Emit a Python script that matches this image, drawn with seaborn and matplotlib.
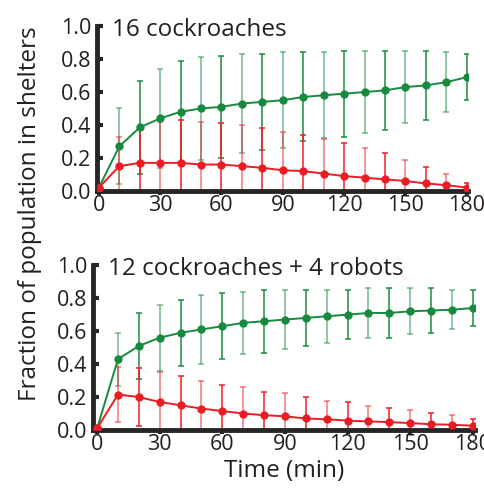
import numpy as np
import pandas as pd
import matplotlib
matplotlib.use('Agg')
import matplotlib.pyplot as plt
import seaborn as sns

# time points (min)
time = [0, 10, 20, 30, 40, 50, 60, 70, 80, 90, 100, 110, 120, 130, 140, 150, 160, 170, 180]

# 16 cockroaches
top_green = [0.02, 0.27, 0.385, 0.44, 0.48, 0.50, 0.51, 0.53, 0.54, 0.55, 0.57, 0.58, 0.59, 0.60, 0.61, 0.63, 0.64, 0.66, 0.69]
top_green_sd = [0.0, 0.23, 0.28, 0.30, 0.31, 0.31, 0.31, 0.30, 0.29, 0.29, 0.27, 0.26, 0.26, 0.25, 0.24, 0.22, 0.21, 0.18, 0.14]
top_red = [0.02, 0.15, 0.17, 0.17, 0.17, 0.16, 0.16, 0.15, 0.14, 0.125, 0.12, 0.105, 0.09, 0.08, 0.07, 0.06, 0.045, 0.035, 0.02]
top_red_sd = [0.0, 0.18, 0.22, 0.25, 0.26, 0.26, 0.25, 0.25, 0.24, 0.235, 0.22, 0.21, 0.20, 0.18, 0.16, 0.13, 0.10, 0.065, 0.03]

# 12 cockroaches + 4 robots
bot_green = [0.01, 0.43, 0.51, 0.56, 0.59, 0.61, 0.63, 0.65, 0.66, 0.67, 0.68, 0.69, 0.70, 0.71, 0.71, 0.72, 0.725, 0.73, 0.74]
bot_green_sd = [0.0, 0.16, 0.20, 0.20, 0.20, 0.21, 0.20, 0.19, 0.19, 0.18, 0.17, 0.16, 0.15, 0.15, 0.15, 0.14, 0.135, 0.12, 0.11]
bot_red = [0.01, 0.215, 0.20, 0.17, 0.15, 0.13, 0.115, 0.10, 0.09, 0.083, 0.07, 0.065, 0.057, 0.052, 0.048, 0.042, 0.035, 0.032, 0.026]
bot_red_sd = [0.0, 0.165, 0.175, 0.18, 0.175, 0.17, 0.16, 0.16, 0.14, 0.14, 0.13, 0.11, 0.11, 0.095, 0.085, 0.08, 0.07, 0.06, 0.04]

titles = ['16 cockroaches', '12 cockroaches + 4 robots']

green = '#178a3e'
red = '#ec1c24'

sns.set_style('ticks')
plt.rcParams['font.family'] = ['Open Sans', 'DejaVu Sans']

fig = plt.figure(figsize=(4.84, 4.92), dpi=100)
ax_top = fig.add_axes([0.200, 0.612, 0.767, 0.335])
ax_bot = fig.add_axes([0.192, 0.126, 0.789, 0.335])

panels = [
    (ax_top, top_green, top_green_sd, top_red, top_red_sd, (-1, 180.6)),
    (ax_bot, bot_green, bot_green_sd, bot_red, bot_red_sd, (-2, 181)),
]

for i, (ax, g, gsd, r, rsd, xl) in enumerate(panels):
    df = pd.DataFrame({'time': time * 2,
                       'frac': g + r,
                       'sd': gsd + rsd,
                       'group': ['green'] * len(time) + ['red'] * len(time)})
    for grp, col in [('green', green), ('red', red)]:
        d = df[df['group'] == grp]
        # alternate dark / light bars like the original
        for k, a in [(0, 0.9), (1, 0.55)]:
            dd = d.iloc[k::2]
            ax.errorbar(dd['time'], dd['frac'], yerr=dd['sd'], fmt='none',
                        ecolor=col, elinewidth=1.2, capsize=2.5, capthick=1.2,
                        alpha=a, zorder=2)
    sns.lineplot(data=df, x='time', y='frac', hue='group',
                 palette={'green': green, 'red': red}, marker='o',
                 markersize=6, markeredgewidth=0, linewidth=1.4,
                 legend=False, ax=ax, zorder=3)
    ax.set_xlim(*xl)
    ax.set_ylim(0, 1.0)
    ax.set_xticks(np.arange(0, 181, 30))
    ax.set_yticks(np.arange(0, 1.01, 0.2))
    ax.set_yticklabels(['%.1f' % v for v in np.arange(0, 1.01, 0.2)])
    ax.set_xlabel('')
    ax.set_ylabel('')
    sns.despine(ax=ax)
    ax.spines['left'].set_linewidth(3.5)
    ax.spines['bottom'].set_linewidth(3.5)
    ax.tick_params(axis='y', direction='in', length=4, width=3, labelsize=15.5,
                   pad=4, labelcolor='#231f20')
    ax.tick_params(axis='x', direction='out', length=3, width=3, labelsize=15.5,
                   pad=0, labelcolor='#231f20')
    ax.text(0.04, 0.975, titles[i], transform=ax.transAxes, fontsize=17.5,
            va='center', ha='left', color='#231f20')

ax_bot.set_xlabel('Time (min)', fontsize=17.5, labelpad=3, color='#231f20')
fig.text(0.062, 0.565, 'Fraction of population in shelters', rotation=90,
         fontsize=17.5, ha='center', va='center', color='#231f20')

fig.savefig('out.png', dpi=100)
